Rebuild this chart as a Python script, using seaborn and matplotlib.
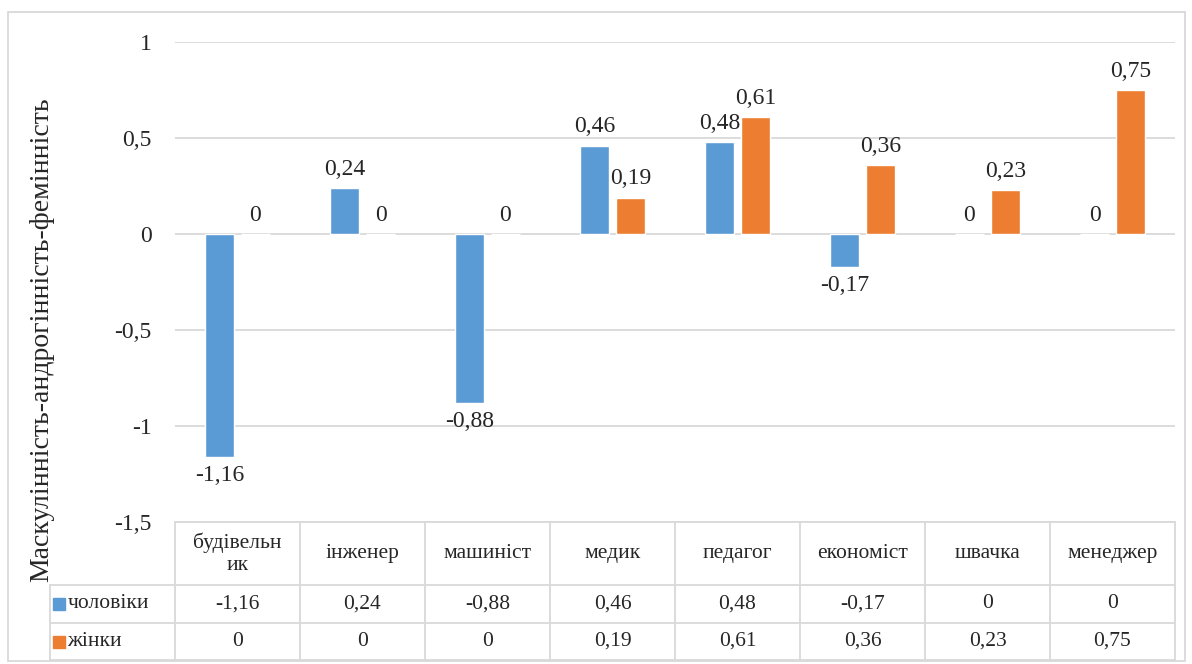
import numpy as np
import pandas as pd
import matplotlib
matplotlib.use("Agg")
import matplotlib.pyplot as plt
import seaborn as sns
from matplotlib.patches import Rectangle

# data
professions = ["будівельник", "інженер", "машиніст", "медик", "педагог", "економіст", "швачка", "менеджер"]
header_labels = ["будівельн\nик", "інженер", "машиніст", "медик", "педагог", "економіст", "швачка", "менеджер"]
men = [-1.16, 0.24, -0.88, 0.46, 0.48, -0.17, 0, 0]
women = [0, 0, 0, 0.19, 0.61, 0.36, 0.23, 0.75]
series_names = ["чоловіки", "жінки"]
colors = ["#5B9BD5", "#ED7D31"]

df = pd.DataFrame({
    "profession": professions * 2,
    "value": men + women,
    "sex": [series_names[0]] * len(men) + [series_names[1]] * len(women),
})

sns.set_theme(style="white")
plt.rcParams["font.family"] = ["Liberation Serif", "DejaVu Serif"]

def fmt(v):
    return f"{v:g}".replace(".", ",")

fig = plt.figure(figsize=(11.92, 6.64), dpi=100)
ax = fig.add_axes([175 / 1192, 1 - 522 / 664, 1000 / 1192, 480 / 664])

sns.barplot(data=df, x="profession", y="value", hue="sex", palette=colors,
            width=0.576, gap=0.22, order=professions, hue_order=series_names,
            legend=False, ax=ax, saturation=1)

for cont in ax.containers:
    ax.bar_label(cont, labels=[fmt(b.get_height()) for b in cont], padding=6, fontsize=17)

ax.set_xlim(-0.5, len(professions) - 0.5)
ax.set_ylim(-1.5, 1)
ax.set_yticks([-1.5, -1, -0.5, 0, 0.5, 1])
ax.set_yticklabels([fmt(t) for t in [-1.5, -1, -0.5, 0, 0.5, 1]], fontsize=17)
ax.tick_params(axis="y", length=0, pad=17)
ax.set_xticks([])
ax.set_xlabel("")
ax.set_ylabel("")
ax.grid(axis="y", color="#d9d9d9", lw=1.3)
ax.set_axisbelow(True)
for s in ax.spines.values():
    s.set_visible(False)

# data table under the plot
tr = ax.get_xaxis_transform()
n = len(professions)
y_head = -63 / 480
y_r1 = -101 / 480
y_r2 = -138 / 480
lc = "#d9d9d9"
lw = 1.3

def hline(x0, x1, y):
    ax.plot([x0, x1], [y, y], color=lc, lw=lw, transform=tr, clip_on=False)

def vline(x, y0, y1):
    ax.plot([x, x], [y0, y1], color=lc, lw=lw, transform=tr, clip_on=False)

hline(-0.5, n - 0.5, 0)
hline(-1.5, n - 0.5, y_head)
hline(-1.5, n - 0.5, y_r1)
hline(-1.5, n - 0.5, y_r2)
vline(-1.5, y_head, y_r2)
for i in range(n + 1):
    vline(i - 0.5, 0, y_r2)

tfs = 15.5
for i, lab in enumerate(header_labels):
    ax.text(i, y_head / 2, lab, ha="center", va="center", fontsize=tfs,
            transform=tr, linespacing=1.2)
for i in range(n):
    ax.text(i, (y_head + y_r1) / 2, fmt(men[i]), ha="center", va="center", fontsize=tfs, transform=tr)
    ax.text(i, (y_r1 + y_r2) / 2, fmt(women[i]), ha="center", va="center", fontsize=tfs, transform=tr)

for row, (name, col) in enumerate(zip(series_names, colors)):
    yc = [(y_head + y_r1) / 2, (y_r1 + y_r2) / 2][row]
    ax.add_patch(Rectangle((-1.476, yc - 0.0125), 0.096, 0.025, color=col,
                           transform=tr, clip_on=False))
    ax.text(-1.36, yc, name, ha="left", va="center", fontsize=tfs, transform=tr)

fig.text(42 / 1192, 1 - 340 / 664, "Маскулінність-андрогінність-фемінність",
         rotation=90, ha="center", va="center", fontsize=20)

fig.add_artist(Rectangle((8 / 1192, 1 - 661 / 664), 1177 / 1192, 649 / 664,
                         fill=False, edgecolor=lc, lw=1.3, transform=fig.transFigure))

fig.savefig("out.png", dpi=100)
